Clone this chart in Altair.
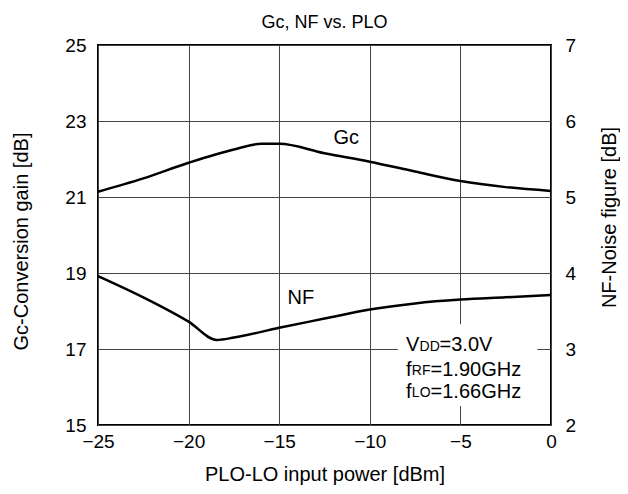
import altair as alt
import pandas as pd

# ---- data ----
gc_x = [-25, -22.5, -20, -17.5, -16, -15, -12.5, -10, -7.5, -5, -2.5, 0]
gc_y = [21.14, 21.49, 21.90, 22.25, 22.40, 22.40, 22.15, 21.93, 21.67, 21.42, 21.26, 21.16]

nf_x = [-25, -22.5, -20, -18.45, -17.5, -15, -12.5, -10, -7.5, -5, -2.5, 0]
nf_y = [3.96, 3.68, 3.36, 3.12, 3.15, 3.28, 3.40, 3.52, 3.60, 3.65, 3.68, 3.71]

x_ticks = [-25, -20, -15, -10, -5, 0]
left_ticks = [15, 17, 19, 21, 23, 25]
right_ticks = [2, 3, 4, 5, 6, 7]

curve_labels = ["Gc", "NF"]
curve_label_x = [-11.3, -13.8]
curve_label_y = [22.55, 18.33]

cond_main = ["V", "f", "f"]
cond_sub = ["DD", "RF", "LO"]
cond_rest = ["=3.0V", "=1.90GHz", "=1.66GHz"]
cond_y = [17.1, 16.45, 15.88]
cond_x = -8.0
box_x = [-8.45]
box_x2 = [-0.75]
box_y = [17.65]
box_y2 = [15.5]

FONT = "Liberation Sans"
FS = 20
TICK_FS = 19
TITLE_FS = 20
W, H = 453, 380

gc_df = pd.DataFrame({"x": gc_x, "y": gc_y})
nf_df = pd.DataFrame({"x": nf_x, "y": nf_y})
lab_df = pd.DataFrame({"t": curve_labels, "x": curve_label_x, "y": curve_label_y})
cond_df = pd.DataFrame({"m": cond_main, "s": cond_sub, "r": cond_rest,
                        "y": cond_y, "x": [cond_x] * 3})
box_df = pd.DataFrame({"x": box_x, "x2": box_x2, "y": box_y, "y2": box_y2})

xscale = alt.Scale(domain=[-25, 0], nice=False, zero=False)
lscale = alt.Scale(domain=[15, 25], nice=False, zero=False)
rscale = alt.Scale(domain=[2, 7], nice=False, zero=False)

xaxis = alt.Axis(values=x_ticks, title="PLO-LO input power [dBm]", grid=True,
                 ticks=False, domain=False, labelPadding=7, labelFlush=False,
                 titleX=W / 2, titleY=49, titleAlign="center", titleBaseline="middle",
                 labelExpr="replace(datum.label, '-', '\u2212')")
laxis = alt.Axis(values=left_ticks, title="Gc-Conversion gain [dB]", grid=True,
                 ticks=False, domain=False, labelPadding=12, labelFlush=False,
                 orient="left", titleAngle=270, titleX=-77, titleY=196,
                 titleAlign="center", titleBaseline="middle")
raxis = alt.Axis(values=right_ticks, title="NF-Noise figure [dB]", grid=False,
                 ticks=False, domain=False, labelPadding=14, labelFlush=False,
                 orient="right", titleAngle=270, titleX=58, titleY=172,
                 titleAlign="center", titleBaseline="middle")

X = alt.X("x:Q", scale=xscale, axis=xaxis)


def ly(axis=None):
    return alt.Y("y:Q", scale=lscale, axis=axis)


gc_line = alt.Chart(gc_df).mark_line(color="black", strokeWidth=2.5,
                                     interpolate="monotone").encode(x=X, y=ly(laxis))

labels = alt.Chart(lab_df).mark_text(font=FONT, fontSize=FS, color="black").encode(
    x=X, y=ly(), text="t:N")

box = alt.Chart(box_df).mark_rect(color="white").encode(
    x=X, x2="x2:Q", y=ly(), y2="y2:Q")

cond_m = alt.Chart(cond_df).mark_text(font=FONT, fontSize=FS, color="black",
                                      align="left").encode(x=X, y=ly(), text="m:N")
cond_s1 = alt.Chart(cond_df.iloc[[0]]).mark_text(font=FONT, fontSize=14, color="black",
                                                 align="left", dx=13.5, dy=1.5).encode(
    x=X, y=ly(), text="s:N")
cond_s2 = alt.Chart(cond_df.iloc[[1, 2]]).mark_text(font=FONT, fontSize=14, color="black",
                                                    align="left", dx=5.8, dy=1.5).encode(
    x=X, y=ly(), text="s:N")
cond_r1 = alt.Chart(cond_df.iloc[[0]]).mark_text(font=FONT, fontSize=FS, color="black",
                                                 align="left", dx=33.5).encode(
    x=X, y=ly(), text="r:N")
cond_r2 = alt.Chart(cond_df.iloc[[1, 2]]).mark_text(font=FONT, fontSize=FS, color="black",
                                                    align="left", dx=24.5).encode(
    x=X, y=ly(), text="r:N")

nf_line = alt.Chart(nf_df).mark_line(color="black", strokeWidth=2.5,
                                     interpolate="monotone").encode(
    x=X, y=alt.Y("y:Q", scale=rscale, axis=raxis))

chart = alt.layer(
    gc_line, nf_line, labels, box, cond_m, cond_s1, cond_s2, cond_r1, cond_r2
).resolve_scale(y="independent").properties(
    width=W, height=H,
    background="white",
    autosize=alt.AutoSizeParams(type="none"),
    padding={"left": 90, "top": 37, "right": 69, "bottom": 61},
    title=alt.Title("Gc, NF vs. PLO", font=FONT, fontSize=18, fontWeight="normal",
                    color="black", offset=4),
).configure_view(
    stroke="black", strokeWidth=2
).configure_axis(
    labelFont=FONT, labelFontSize=TICK_FS, labelColor="black",
    titleFont=FONT, titleFontSize=TITLE_FS, titleFontWeight="normal", titleColor="black",
    gridColor="#444444", gridWidth=1, gridOpacity=1,
)

chart.save("out.html", embed_options={"renderer": "svg", "actions": False})
